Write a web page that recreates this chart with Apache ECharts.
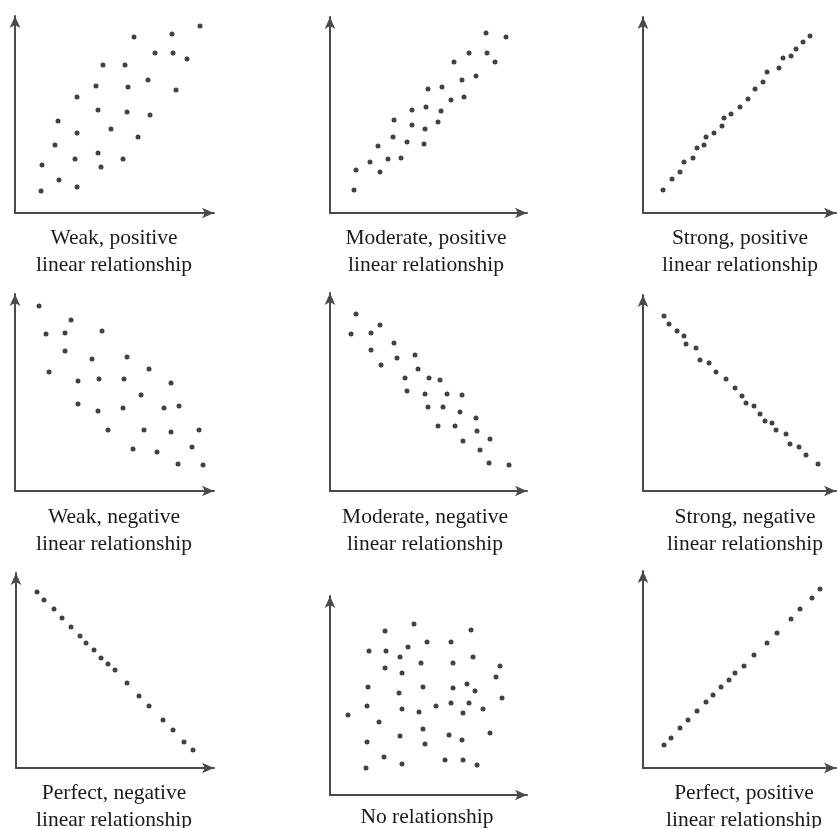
<!DOCTYPE html>
<html><head><meta charset="utf-8">
<script src="https://cdn.jsdelivr.net/npm/echarts@6/dist/echarts.min.js"></script>
<style>html,body{margin:0;padding:0;background:#fff}#c{width:837px;height:828px}</style>
</head><body><div id="c"></div>
<script>
// Values (units: px right of / above each panel's axes)
const weakPosX = [185,157,119,140,158,172,88,110,133,81,113,161,62,83,112,135,43,96,62,123,40,83,60,108,27,86,44,62,26];
const weakPosY = [187,179,176,160,160,154,148,148,133,127,126,123,116,103,101,98,92,84,80,76,68,60,54,54,48,46,33,26,22];

const modPosX = [156,176,139,157,124,165,146,132,98,112,121,134,82,96,111,64,82,95,108,63,77,94,48,40,58,71,26,50,24];
const modPosY = [180,176,160,160,151,151,137,133,124,126,113,116,103,106,102,93,88,84,91,76,71,69,67,51,54,55,43,41,23];

const strongPosX = [167,160,153,148,140,136,124,120,112,105,97,88,81,79,71,63,61,54,50,41,37,29,20];
const strongPosY = [177,171,164,157,155,145,141,131,124,114,106,99,95,87,80,76,68,65,55,51,41,34,23];

const weakNegX = [24,56,31,50,87,50,77,112,34,63,84,109,134,156,126,63,83,108,149,164,93,129,156,184,118,142,177,163,188];
const weakNegY = [185,171,157,158,160,140,132,134,119,110,112,112,122,108,96,87,80,83,83,85,61,61,59,61,42,39,44,27,26];

const modNegX = [26,50,21,41,64,41,67,85,51,88,75,99,110,77,95,117,132,98,113,130,146,108,125,147,133,160,150,159,179];
const modNegY = [177,166,157,158,148,141,133,136,126,122,113,113,111,100,97,97,96,84,84,79,73,65,65,60,50,52,41,28,26];

const strongNegX = [21,26,34,41,43,53,57,66,73,83,92,99,103,111,117,122,129,133,143,147,156,163,175];
const strongNegY = [175,167,160,155,147,143,131,128,119,112,103,95,88,85,77,70,68,61,57,47,44,36,27];

const perfNegX = [21,28,38,46,55,64,70,78,85,92,99,111,123,133,147,157,168,177];
const perfNegY = [176,168,159,150,141,132,125,118,110,104,98,85,72,62,48,38,26,18];

const noRelX = [84,55,141,97,121,39,56,78,70,143,91,123,55,72,170,166,38,93,123,137,145,69,172,37,72,89,106,121,139,133,153,18,49,93,70,119,132,160,37,95,54,115,133,36,72,147];
const noRelY = [171,164,165,153,153,144,144,148,138,138,132,132,127,122,129,118,108,108,107,111,104,102,97,89,86,83,89,92,92,82,86,80,73,66,59,60,55,62,53,51,38,35,35,27,31,30];

const perfPosX = [177,169,157,148,134,124,111,101,92,86,78,70,63,54,45,37,28,21];
const perfPosY = [179,170,159,149,135,125,113,102,95,88,81,73,66,57,48,40,30,23];

const panelTitles = [
  ["Weak, positive", "linear relationship"],
  ["Moderate, positive", "linear relationship"],
  ["Strong, positive", "linear relationship"],
  ["Weak, negative", "linear relationship"],
  ["Moderate, negative", "linear relationship"],
  ["Strong, negative", "linear relationship"],
  ["Perfect, negative", "linear relationship"],
  ["No relationship"],
  ["Perfect, positive", "linear relationship"]
];
const panelX = [weakPosX, modPosX, strongPosX, weakNegX, modNegX, strongNegX, perfNegX, noRelX, perfPosX];
const panelY = [weakPosY, modPosY, strongPosY, weakNegY, modNegY, strongNegY, perfNegY, noRelY, perfPosY];

// layout: [yAxis x, xAxis y, top arrow tip, right arrow tip]
const layout = [
  [15,213,10,220],[330,213,11,533],[643,213,11,842],
  [15,491,288,220],[330,491,287,533],[643,491,289,842],
  [16,768,567,220],[330,795,590,533],[643,768,565,842]
];
const labelPos = [[114,238],[426,238],[740,238],[114,517],[425,517],[745,517],[114,793],[427,817],[744,793]];

const AH = 12; // arrow length
const grids = [], xAxes = [], yAxes = [], series = [], graphics = [];
layout.forEach((L, i) => {
  const left = L[0], bottom = L[1], top = L[2] + AH/2, right = L[3] - AH/2;
  const w = right - left, h = bottom - top;
  grids.push({left: left, top: top, width: w, height: h, containLabel: false});
  const axisLine = {show: true, onZero: false, symbol: ['none','arrow'], symbolSize: [8, AH],
    lineStyle: {color: '#4a4a4a', width: 2}};
  xAxes.push({type: 'value', gridIndex: i, min: 0, max: w, axisLine: axisLine,
    axisTick: {show: false}, axisLabel: {show: false}, splitLine: {show: false}});
  yAxes.push({type: 'value', gridIndex: i, min: 0, max: h, axisLine: axisLine,
    axisTick: {show: false}, axisLabel: {show: false}, splitLine: {show: false}});
  series.push({type: 'scatter', xAxisIndex: i, yAxisIndex: i, symbol: 'circle', symbolSize: 5,
    itemStyle: {color: '#111'}, silent: true,
    data: panelX[i].map((x, k) => [x, panelY[i][k]])});
  panelTitles[i].forEach((t, k) => {
    graphics.push({type: 'text', x: labelPos[i][0], y: labelPos[i][1] + k * 27,
      style: {text: t, fill: '#1a1a1a', font: '21.5px "Liberation Serif", "Times New Roman", serif',
        textAlign: 'center', textVerticalAlign: 'middle', align: 'center', verticalAlign: 'middle'}});
  });
});

const chart = echarts.init(document.getElementById('c'), null, {renderer: 'canvas'});
chart.setOption({
  animation: false,
  backgroundColor: '#fff',
  grid: grids, xAxis: xAxes, yAxis: yAxes, series: series, graphic: graphics
});
</script></body></html>
